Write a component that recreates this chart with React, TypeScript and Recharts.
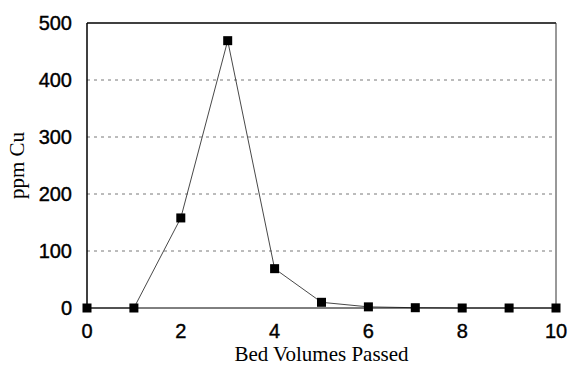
import {
    LineChart,
    Line,
    XAxis,
    YAxis,
    CartesianGrid,
    ReferenceLine,
} from "recharts"

const bedVolumes = [0, 1, 2, 3, 4, 5, 6, 7, 8, 9, 10]
const ppmCu = [0, 0, 158, 469, 69, 10, 2, 0.5, 0, 0, 0]
const xTicks = [0, 2, 4, 6, 8, 10]
const yTicks = [0, 100, 200, 300, 400, 500]

const data = bedVolumes.map((bv, i) => ({ bv, cu: ppmCu[i] }))

const tickStyle = {
    fontFamily: "Liberation Sans, Arial",
    fontSize: 20,
    fill: "#000",
    stroke: "#000",
    strokeWidth: 0.4,
}
const titleStyle = { fontFamily: "Liberation Serif, Times New Roman", fontSize: 21, fill: "#000" }

const SquareDot = (props: any) => {
    const { cx, cy } = props
    if (cx == null || cy == null) return null
    return <rect x={cx - 4.5} y={cy - 4.5} width={9} height={9} fill="#000" />
}

export default function App() {
    return (
        <div style={{ position: "absolute", left: 0, top: 0, background: "#fff" }}>
            <LineChart
                width={568}
                height={365}
                data={data}
                margin={{ top: 23, right: 12, bottom: 0, left: 0 }}
            >
                <CartesianGrid
                    vertical={false}
                    horizontalValues={[100, 200, 300, 400]}
                    stroke="#555"
                    strokeDasharray="3 4"
                    strokeWidth={0.8}
                />
                <XAxis
                    dataKey="bv"
                    type="number"
                    domain={[0, 10]}
                    ticks={xTicks}
                    height={57}
                    tickLine={false}
                    tickSize={0}
                    tickMargin={16}
                    axisLine={{ stroke: "#000", strokeWidth: 1 }}
                    tick={tickStyle}
                    label={{
                        value: "Bed Volumes Passed",
                        position: "insideBottom",
                        offset: 4,
                        style: titleStyle,
                    }}
                />
                <YAxis
                    domain={[0, 500]}
                    ticks={yTicks}
                    width={87}
                    tickLine={false}
                    tickSize={0}
                    tickMargin={15}
                    axisLine={{ stroke: "#000", strokeWidth: 1.5 }}
                    tick={tickStyle}
                    label={{
                        value: "ppm Cu",
                        angle: -90,
                        position: "center",
                        dx: -27,
                        style: titleStyle,
                    }}
                />
                <ReferenceLine y={500} stroke="#000" strokeWidth={1.5} />
                <ReferenceLine x={10} stroke="#333" strokeWidth={1} />
                <Line
                    dataKey="cu"
                    type="linear"
                    stroke="#333"
                    strokeWidth={0.9}
                    dot={<SquareDot />}
                    activeDot={false}
                    isAnimationActive={false}
                />
            </LineChart>
        </div>
    )
}
